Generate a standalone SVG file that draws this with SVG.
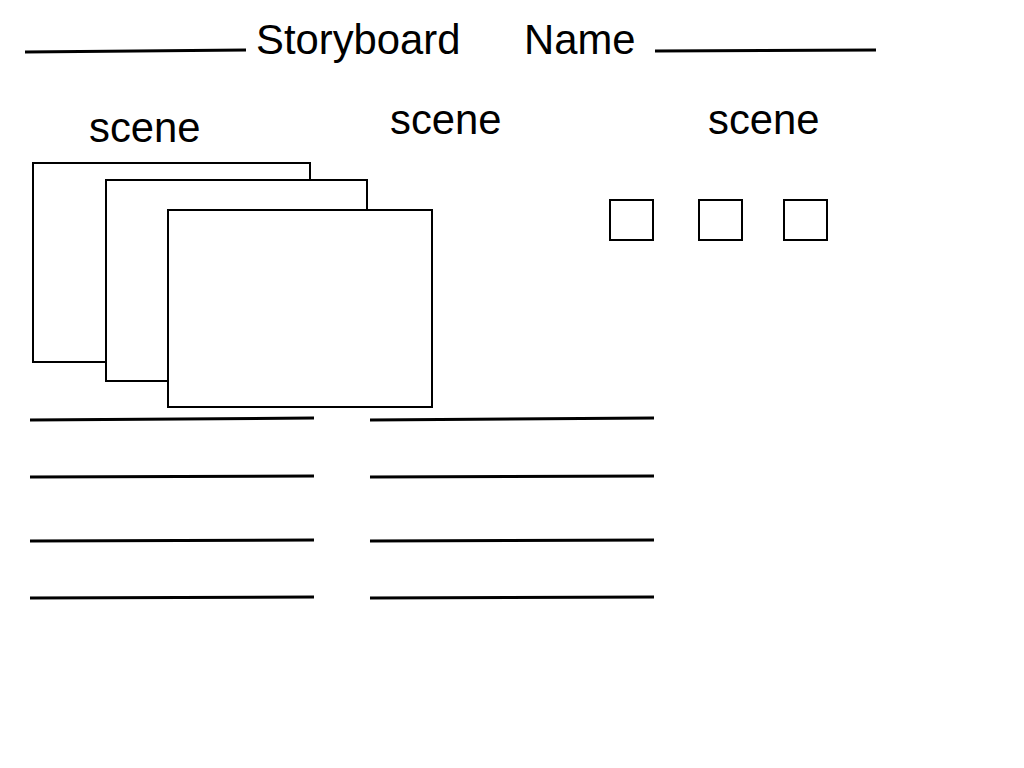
<svg xmlns="http://www.w3.org/2000/svg" width="1024" height="768" viewBox="0 0 1024 768">
<style>
.t{font-family:"Liberation Sans",Arial,sans-serif;font-size:41.8px;fill:#000}
.f{fill:#fff;stroke:#000;stroke-width:2}
.l{stroke:#000;stroke-width:3;fill:none}
</style>
<rect width="1024" height="768" fill="#fff"/>
<g id="header">
<line class="l" x1="25" y1="52" x2="246" y2="50"/>
<text class="t" x="256" y="54">Storyboard</text>
<text class="t" x="524" y="54">Name</text>
<line class="l" x1="655" y1="51" x2="876" y2="50"/>
</g>
<g id="scene1">
<text class="t" x="89" y="142">scene</text>
<rect class="f" x="33" y="163" width="277" height="199"/>
<rect class="f" x="106" y="180" width="261" height="201"/>
<rect class="f" x="168" y="210" width="264" height="197"/>
</g>
<g id="scene2">
<text class="t" x="390" y="134">scene</text>
</g>
<g id="scene3">
<text class="t" x="708" y="134">scene</text>
<rect class="f" x="610" y="200" width="43" height="40"/>
<rect class="f" x="699" y="200" width="43" height="40"/>
<rect class="f" x="784" y="200" width="43" height="40"/>
</g>
<g id="lines">
<line class="l" x1="30" y1="420" x2="314" y2="418"/>
<line class="l" x1="30" y1="477" x2="314" y2="476"/>
<line class="l" x1="30" y1="541" x2="314" y2="540"/>
<line class="l" x1="30" y1="598" x2="314" y2="597"/>
<line class="l" x1="370" y1="420" x2="654" y2="418"/>
<line class="l" x1="370" y1="477" x2="654" y2="476"/>
<line class="l" x1="370" y1="541" x2="654" y2="540"/>
<line class="l" x1="370" y1="598" x2="654" y2="597"/>
</g>
</svg>
